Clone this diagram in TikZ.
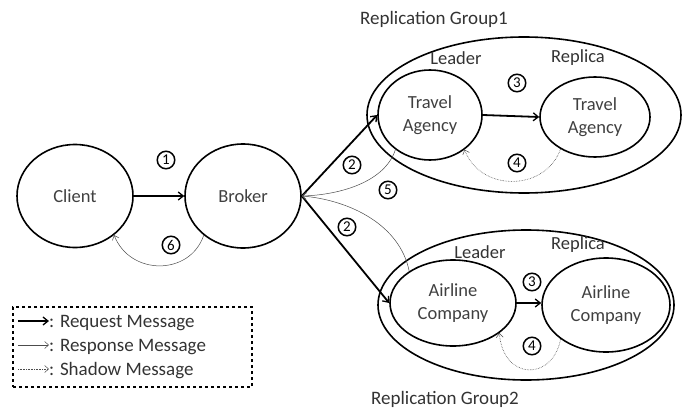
\documentclass[tikz,border=0pt]{standalone}
\usepackage{fontspec}
\setmainfont{Carlito}
\usetikzlibrary{arrows.meta,shapes.geometric}
\tikzset{
  proc/.style={ellipse, draw, line width=1.6pt, inner sep=0pt, align=center,
    font=\fontsize{18.5}{23.5}\selectfont, text=black!75},
  grp/.style={ellipse, draw, line width=1.6pt, inner sep=0pt},
  req/.style={line width=1.8pt, -{Straight Barb[length=5pt,width=8pt,line width=1.3pt]}},
  resp/.style={line width=0.5pt, draw=black!70, -{Straight Barb[length=4pt,width=7pt]}},
  shadowmsg/.style={line width=0.6pt, densely dotted, draw=black!70, -{Straight Barb[length=4pt,width=7pt,line width=0.5pt]}},
  stepnum/.style={circle, draw, line width=1.5pt, minimum size=17.5pt, inner sep=0pt,
    font=\fontsize{15}{15}\selectfont},
  lbl/.style={font=\fontsize{18.5}{18.5}\selectfont, text=black!80},
  glbl/.style={font=\fontsize{19}{19}\selectfont, text=black!80},
  legtext/.style={font=\fontsize{19}{19}\selectfont, text=black!80, anchor=west, inner sep=0pt}
}
\begin{document}
\begin{tikzpicture}[x=1pt,y=-1pt]
\useasboundingbox (0,0) rectangle (687,412);

% replication groups
\node[grp, minimum width=314pt, minimum height=156pt] (g1) at (524,115) {};
\node[grp, minimum width=296pt, minimum height=150pt] (g2) at (526,305) {};
\node[glbl] (g1lbl) at (434,19) {Replication Group1};
\node[glbl] (g2lbl) at (445,399) {Replication Group2};

% processes
\node[proc, minimum width=116pt, minimum height=103pt] (client) at (75,196) {Client};
\node[proc, minimum width=116pt, minimum height=104pt] (broker) at (243,196) {Broker};
\node[proc, minimum width=104pt, minimum height=90pt] (ta1) at (430,115) {Travel\\Agency};
\node[proc, minimum width=110pt, minimum height=80pt] (ta2) at (595,117) {Travel\\Agency};
\node[proc, minimum width=126pt, minimum height=86pt] (ac1) at (453,303) {Airline\\Company};
\node[proc, minimum width=128pt, minimum height=94pt] (ac2) at (606,305) {Airline\\Company};

\node[lbl] (l1) at (456,58) {Leader};
\node[lbl] (r1) at (578,58) {Replica};
\node[lbl] (l2) at (480,252) {Leader};
\node[lbl] (r2) at (578,245) {Replica};

% request messages
\draw[req] (client.east) -- (broker.west);
\draw[req] (broker.east) -- (ta1.west);
\draw[req] (broker.east) -- (ac1.west);
\draw[req] (ta1.east) -- (ta2.west);
\draw[req] (ac1.east) -- (ac1.east -| ac2.west);

% response messages
\draw[resp] (broker.-135) .. controls (190,276) and (130,276) .. (client.-45);
\draw[resp] (ta1.-135) .. controls (385,182) and (340,195) .. (broker.east);
\draw[resp] (ac1.144) .. controls (400,225) and (350,200) .. (broker.east);

% shadow messages
\draw[shadowmsg] (ta2.-137) .. controls (545,192) and (480,192) .. (ta1.-45);
\draw[shadowmsg] (ac2.-143) .. controls (552,382) and (503,380) .. (ac1.-33);

% step numbers
\node[stepnum] (s1) at (166,160) {1};
\node[stepnum] (s6) at (171,245) {6};
\node[stepnum] (s2a) at (352,165) {2};
\node[stepnum] (s5) at (388,190) {5};
\node[stepnum] (s2b) at (347,227) {2};
\node[stepnum] (s3a) at (517,83) {3};
\node[stepnum] (s4a) at (517,163) {4};
\node[stepnum] (s3b) at (532,282) {3};
\node[stepnum] (s4b) at (532,346) {4};

% legend
\node[draw, dashed, line width=1.3pt, minimum width=239pt, minimum height=80pt, inner sep=0pt] (legend) at (132.5,347) {};
\coordinate (a1s) at (18,321);
\coordinate (a1e) at (49,321);
\coordinate (a2s) at (18,345);
\coordinate (a2e) at (49,345);
\coordinate (a3s) at (18,369);
\coordinate (a3e) at (49,369);
\draw[req] (a1s) -- (a1e);
\draw[resp] (a2s) -- (a2e);
\draw[shadowmsg] (a3s) -- (a3e);
\node[legtext] (t1) at (49,323) {: Request Message};
\node[legtext] (t2) at (49,347) {: Response Message};
\node[legtext] (t3) at (49,371) {: Shadow Message};
\end{tikzpicture}
\end{document}
